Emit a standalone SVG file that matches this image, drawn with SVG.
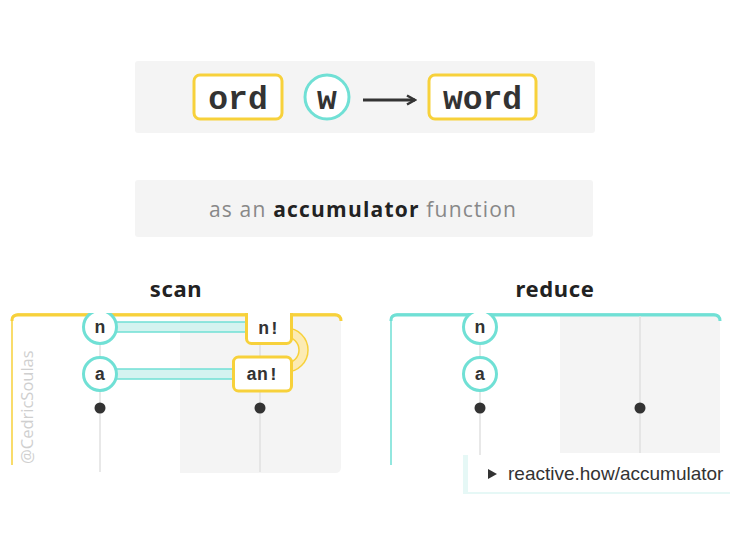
<svg xmlns="http://www.w3.org/2000/svg" width="730" height="550" viewBox="0 0 730 550">
<defs>
<style>
.panel{fill:#f4f4f4}
.ybox{fill:#fff;stroke:#f7d13b;stroke-width:3}
.tcirc{fill:#fff;stroke:#70e0d5;stroke-width:3}
.mono{font-family:"Liberation Mono","Courier New",monospace;font-weight:bold;fill:#333;text-anchor:middle}
.title{font-family:"Noto Sans","Open Sans",sans-serif;font-weight:bold;font-size:22px;letter-spacing:0.6px;fill:#222;text-anchor:middle}
.vline{stroke:#e0e0e0;stroke-width:1.5}
.dot{fill:#333}
.bar{fill:#d4f3f0;stroke:#70e0d5;stroke-width:1.5}
</style>
<clipPath id="clipScan"><rect x="11" y="313" width="331" height="165"/></clipPath>
<clipPath id="clipReduce"><rect x="391" y="313" width="330" height="165"/></clipPath>
<marker id="arr" viewBox="0 0 12 12" refX="10" refY="6" markerWidth="12" markerHeight="12" markerUnits="userSpaceOnUse" orient="auto"><path d="M2 1.5 L10 6 L2 10.5" fill="none" stroke="#333" stroke-width="2.5"/></marker>
</defs>
<rect width="730" height="550" fill="#fff"/>

<g id="header">
<rect class="panel" x="135" y="61" width="460" height="72" rx="3"/>
<g id="node-ord"><rect class="ybox" x="194" y="75" width="88" height="44" rx="6"/><text class="mono" x="238" y="109" font-size="33">ord</text></g>
<g id="node-w"><circle class="tcirc" cx="327" cy="97" r="22"/><text class="mono" x="327" y="109" font-size="33">w</text></g>
<g id="node-word"><rect class="ybox" x="429" y="75" width="107" height="44" rx="6"/><text class="mono" x="482.5" y="109" font-size="33">word</text></g>
</g>

<g id="subtitle">
<rect class="panel" x="135" y="180" width="458" height="57" rx="3"/>
<text x="363" y="217" font-family="'Open Sans','Noto Sans',sans-serif" font-size="21" letter-spacing="1.2" fill="#888" text-anchor="middle">as an <tspan font-weight="bold" fill="#222">accumulator</tspan> function</text>
</g>

<text class="title" x="176" y="297">scan</text>
<text class="title" x="555" y="297">reduce</text>

<g id="scan-panel">
<path d="M180 316 H341 V467 Q341 473 335 473 H180 Z" class="panel"/>
<path d="M12 465 V320 Q12 314 18 314 H335 Q341 314 341 320" fill="none" stroke="#f7d13b" stroke-width="1.5"/>
<path d="M12 321 V320 Q12 315 18 315 H335 Q341 315 341 321" fill="none" stroke="#f7d13b" stroke-width="3"/>
<line class="vline" x1="100" y1="316" x2="100" y2="472"/>
<line class="vline" x1="260" y1="316" x2="260" y2="472"/>
<text transform="translate(33 464) rotate(-90)" font-family="'Open Sans','Noto Sans',sans-serif" font-size="16.5" fill="#cfcfcf">@CedricSoulas</text>
</g>

<g id="reduce-panel">
<path d="M560 316 H720 V453 H560 Z" class="panel"/>
<path d="M391 465 V320 Q391 314 397 314 H714 Q720 314 720 320" fill="none" stroke="#70e0d5" stroke-width="1.5"/>
<path d="M391 321 V320 Q391 315 397 315 H714 Q720 315 720 321" fill="none" stroke="#70e0d5" stroke-width="3"/>
<line class="vline" x1="480" y1="316" x2="480" y2="455"/>
<line class="vline" x1="640" y1="316" x2="640" y2="453"/>
</g>

<g id="connectors">
<line x1="363" y1="100" x2="415" y2="100" stroke="#333" stroke-width="3" marker-end="url(#arr)"/>
<g clip-path="url(#clipScan)">
<rect class="bar" x="116" y="322" width="132" height="10"/>
<rect class="bar" x="116" y="369" width="119" height="10"/>
<path d="M286 328 A22 22 0 0 1 286 372 L286 363 A13 13 0 0 0 286 337 Z" fill="#fcebb3" stroke="#f7d13b" stroke-width="1.5"/>
</g>
</g>

<g clip-path="url(#clipScan)">
<g id="scan-n"><circle class="tcirc" cx="100" cy="327" r="16.5"/><text class="mono" x="100" y="333" font-size="18">n</text></g>
<g id="scan-a"><circle class="tcirc" cx="100" cy="374" r="16.5"/><text class="mono" x="100" y="380" font-size="18">a</text></g>
<g id="scan-n-out"><rect class="ybox" x="246.5" y="308" width="45" height="35.5" rx="5"/><text class="mono" x="269" y="334" font-size="18">n!</text></g>
<g id="scan-an-out"><rect class="ybox" x="233.5" y="357" width="58" height="34" rx="5"/><text class="mono" x="262.5" y="380" font-size="18">an!</text></g>
</g>
<circle id="scan-end1" class="dot" cx="100" cy="408" r="5.5"/>
<circle id="scan-end2" class="dot" cx="260" cy="408" r="5.5"/>

<g clip-path="url(#clipReduce)">
<g id="reduce-n"><circle class="tcirc" cx="480" cy="327" r="16.5"/><text class="mono" x="480" y="333" font-size="18">n</text></g>
<g id="reduce-a"><circle class="tcirc" cx="480" cy="374" r="16.5"/><text class="mono" x="480" y="380" font-size="18">a</text></g>
</g>
<circle id="reduce-end1" class="dot" cx="480" cy="408" r="5.5"/>
<circle id="reduce-end2" class="dot" cx="640" cy="408" r="5.5"/>

<g id="link">
<rect x="463" y="455" width="270" height="38" fill="#fff"/>
<rect x="463" y="455" width="5" height="38" fill="#e6f8f6"/>
<line x1="463" y1="493" x2="730" y2="493" stroke="#e6f8f6" stroke-width="2"/>
<path d="M488 469 L497 474 L488 479 Z" fill="#333"/>
<text x="508" y="480" font-family="'Liberation Sans',Arial,sans-serif" font-size="19" fill="#333">reactive.how/accumulator</text>
</g>
</svg>
